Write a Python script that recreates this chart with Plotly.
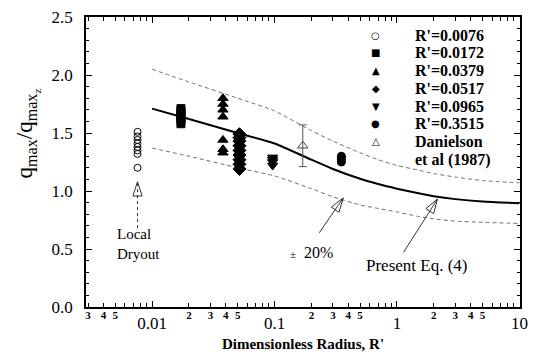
import plotly.graph_objects as go

# ---------------- data ----------------
r_0076 = [0.0076] * 8
q_0076 = [1.51, 1.47, 1.44, 1.41, 1.38, 1.35, 1.32, 1.20]

r_0172 = [0.0172] * 7
q_0172 = [1.58, 1.61, 1.63, 1.65, 1.67, 1.69, 1.71]

r_0379 = [0.0379] * 7
q_0379 = [1.80, 1.75, 1.70, 1.64, 1.44, 1.36, 1.33]

r_0517 = [0.0517] * 9
q_0517 = [1.49, 1.46, 1.43, 1.39, 1.35, 1.31, 1.27, 1.23, 1.19]

r_0965 = [0.0965] * 4
q_0965 = [1.22, 1.25, 1.27, 1.29]

r_3515 = [0.3515] * 4
q_3515 = [1.25, 1.27, 1.29, 1.30]

r_dan = [0.17]
q_dan = [1.39]
q_dan_err = [0.18]

# Present Eq. (4) and the +/-20% band
r_curve = [0.01, 0.02, 0.05, 0.1, 0.2, 0.3, 0.5, 0.7, 1, 1.5, 2, 3, 5, 10]
q_curve = [1.71, 1.62, 1.50, 1.41, 1.27, 1.19, 1.105, 1.06, 1.02, 0.98, 0.955, 0.93, 0.91, 0.895]
q_upper = [2.05, 1.94, 1.80, 1.69, 1.52, 1.43, 1.33, 1.27, 1.22, 1.18, 1.15, 1.12, 1.09, 1.07]
q_lower = [1.37, 1.30, 1.20, 1.13, 1.02, 0.95, 0.88, 0.85, 0.82, 0.78, 0.76, 0.74, 0.73, 0.72]

# legend (drawn as text)
legend_symbols = ["○", "■", "▲", "◆", "▼", "●", "△"]
legend_lines = ["R'=0.0076", "R'=0.0172", "R'=0.0379", "R'=0.0517",
                "R'=0.0965", "R'=0.3515", "Danielson", "et al (1987)"]

# x tick labels
major_ticks = [0.01, 0.1, 1, 10]
major_labels = ["0.01", "0.1", "1", "10"]
minor_labelled = [2, 3, 4, 5]
minor_all = [2, 3, 4, 5, 6, 7, 8, 9]

# annotation arrows (tail -> tip)
arrow_dryout_r = [0.0076, 0.0076]
arrow_dryout_q = [0.68, 1.08]
arrow_pm_r = [0.232, 0.364]
arrow_pm_q = [0.64, 0.94]
arrow_eq_r = [1.13, 2.14]
arrow_eq_q = [0.47, 0.93]

SERIF = "Liberation Serif, Times New Roman, serif"
X_RANGE = [-2.54, 1.005]

fig = go.Figure()

# band + curve (the upper band is placed on the identical overlay axis x2,
# which carries the small minor-decade labels)
for ys, col, w, dash, xa in [(q_upper, "#707070", 1, "4px,3px", "x2"),
                             (q_lower, "#707070", 1, "4px,3px", "x"),
                             (q_curve, "black", 2, "solid", "x")]:
    fig.add_trace(go.Scatter(x=r_curve, y=ys, mode="lines", showlegend=False, xaxis=xa,
                             line=dict(color=col, width=w, dash=dash,
                                       shape="spline", smoothing=0.6)))

series = [
    (r_0076, q_0076, "circle-open", 7),
    (r_0172, q_0172, "square", 8),
    (r_0379, q_0379, "triangle-up", 9),
    (r_0517, q_0517, "diamond", 10),
    (r_0965, q_0965, "triangle-down", 9),
    (r_3515, q_3515, "circle", 8),
]
for (xs, ys, sym, sz), name in zip(series, legend_lines[:6]):
    fig.add_trace(go.Scatter(x=xs, y=ys, mode="markers", name=name, showlegend=False,
                             marker=dict(symbol=sym, size=sz, color="black",
                                         line=dict(color="black", width=1))))

fig.add_trace(go.Scatter(x=r_dan, y=q_dan, mode="markers", name="Danielson et al (1987)",
                         showlegend=False,
                         marker=dict(symbol="triangle-up-open", size=9, color="#444",
                                     line=dict(color="#444", width=1)),
                         error_y=dict(type="data", array=q_dan_err, color="#555",
                                      thickness=1, width=4)))

# arrows
for xs, ys, dash in [(arrow_dryout_r, arrow_dryout_q, "3px,3px"),
                     (arrow_pm_r, arrow_pm_q, "solid"),
                     (arrow_eq_r, arrow_eq_q, "solid")]:
    fig.add_trace(go.Scatter(x=xs, y=ys, mode="lines+markers", showlegend=False,
                             line=dict(color="#333", width=1, dash=dash),
                             marker=dict(symbol="arrow-open", angleref="previous", size=15,
                                         color="#333", line=dict(color="#333", width=1))))

# x tick positions
minor_vals, minor_lab_vals, minor_lab_text = [], [], []
for dec in [0.001, 0.01, 0.1, 1]:
    for d in minor_all:
        v = d * dec
        if 0.0028 < v < 10.5:
            minor_vals.append(v)
            if d in minor_labelled:
                minor_lab_vals.append(v)
                minor_lab_text.append("<b>%d</b>" % d)

fig.update_layout(
    xaxis=dict(type="log", range=X_RANGE, tickmode="array",
               tickvals=major_ticks, ticktext=major_labels,
               ticks="inside", ticklen=6, tickwidth=1, tickcolor="black",
               minor=dict(tickmode="array", tickvals=minor_vals, ticks="inside",
                          ticklen=4, tickwidth=1, tickcolor="black"),
               showline=True, linecolor="black", linewidth=1.5, mirror="ticks",
               showgrid=False, zeroline=False, automargin=False,
               tickfont=dict(family=SERIF, size=17, color="black"),
               title=dict(text="<b>Dimensionless Radius, R'</b>", standoff=6,
                          font=dict(family=SERIF, size=15, color="black"))),
    xaxis2=dict(type="log", range=X_RANGE, overlaying="x", anchor="y", side="bottom",
                tickmode="array", tickvals=minor_lab_vals, ticktext=minor_lab_text, ticks="",
                showline=False, showgrid=False, zeroline=False, automargin=False,
                tickfont=dict(family=SERIF, size=11, color="black")),
    yaxis=dict(range=[0, 2.5], dtick=0.5, tickformat=".1f",
               ticks="inside", ticklen=6, tickwidth=1, tickcolor="black",
               minor=dict(dtick=0.1, ticks="inside", ticklen=3, tickcolor="black"),
               showline=True, linecolor="black", linewidth=1.5, mirror="ticks",
               showgrid=False, zeroline=False, automargin=False, ticklabelstandoff=8,
               ticklabeloverflow="allow",
               tickfont=dict(family=SERIF, size=17, color="black")),
)

# legend annotations (paper coordinates relative to plot area)
sym_x = 0.668
txt_x = 0.7535
row_y = [0.9362, 0.8759, 0.8138, 0.7528, 0.6931, 0.6328, 0.5690, 0.5086]
annotations = []
for sym, yy in zip(legend_symbols, row_y):
    annotations.append(dict(x=sym_x, y=yy, xref="paper", yref="paper", text=sym,
                            showarrow=False, xanchor="center", yanchor="middle",
                            font=dict(family="DejaVu Sans", size=10, color="black")))
for line, yy in zip(legend_lines, row_y):
    annotations.append(dict(x=txt_x, y=yy, xref="paper", yref="paper", text="<b>%s</b>" % line,
                            showarrow=False, xanchor="left", yanchor="middle",
                            font=dict(family=SERIF, size=16, color="black")))

annotations += [
    # y-axis title
    dict(x=-0.135, y=0.6, xref="paper", yref="paper", textangle=-90,
         text="q<sub>max</sub>/q<sub>max<sub>z</sub></sub>", showarrow=False,
         xanchor="center", yanchor="middle",
         font=dict(family=SERIF, size=23, color="black")),
    dict(x=-2.303, y=0.545, xref="x", yref="y", text="Local<br>Dryout", showarrow=False,
         xanchor="left", align="left", font=dict(family=SERIF, size=15, color="black")),
    dict(x=-0.70, y=0.47, xref="x", yref="y", text="<span style='font-size:11px'>±</span>  20%",
         showarrow=False, font=dict(family=SERIF, size=16, color="black")),
    dict(x=0.165, y=0.36, xref="x", yref="y", text="Present Eq. (4)", showarrow=False,
         font=dict(family=SERIF, size=17, color="black")),
]

# The page body has an 8px margin, so the figure is sized to fill the rest of the window.
fig.update_layout(
    width=529, height=352,
    margin=dict(l=78, r=17, t=9, b=53),
    paper_bgcolor="white", plot_bgcolor="white",
    showlegend=False,
    annotations=annotations,
)

fig.write_html("out.html")
